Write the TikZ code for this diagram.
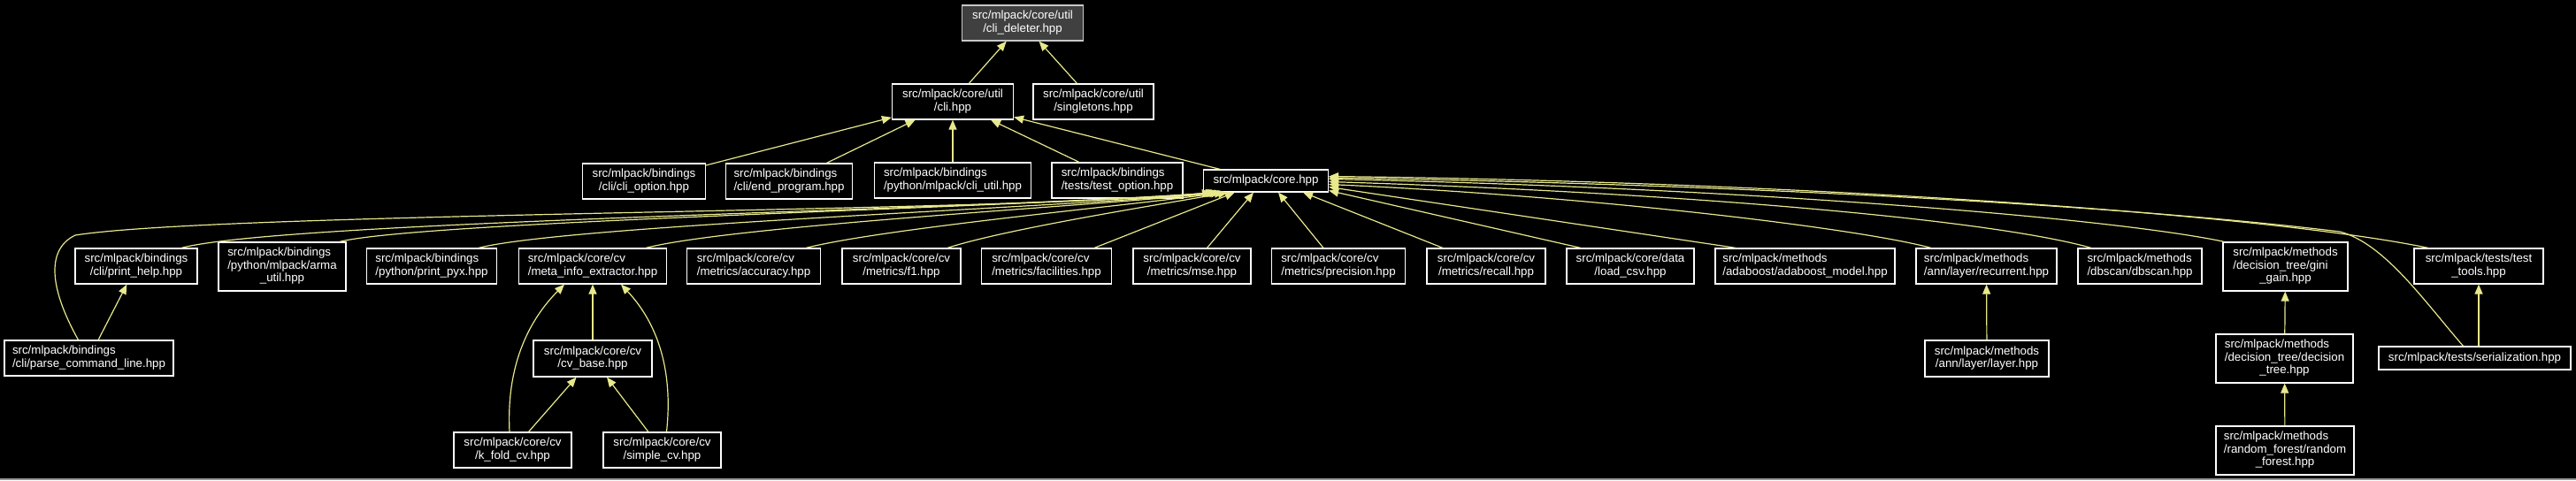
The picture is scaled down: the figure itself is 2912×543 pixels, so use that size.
\documentclass[tikz,border=0pt]{standalone}
\usepackage{fontspec}
\setmainfont{Liberation Sans}
\usetikzlibrary{arrows.meta}
\definecolor{edgec}{RGB}{232,232,140}
\definecolor{boxg}{RGB}{64,64,64}
\definecolor{boxb}{RGB}{200,200,200}
\newcommand\labfont{\fontsize{6.65}{7.2}\selectfont}
\newcommand\Lab[2]{\begin{tabular}{@{}l@{}}#1\\\multicolumn{1}{@{}c@{}}{#2}\end{tabular}}
\tikzset{
  fb/.style={draw=white, fill=black, text=white, line width=0.6pt, inner sep=0pt, font=\labfont, rectangle},
  rootbox/.style={fb, draw=boxb, fill=boxg},
  edge/.style={draw=edgec, line width=0.6pt, -{Triangle[length=5.5pt,width=4.5pt]}},
}
\begin{document}
\begin{tikzpicture}[x=0.5pt,y=-0.5pt]
\fill[black] (0,0) rectangle (2912,543);
\useasboundingbox (0,0) rectangle (2912,543);
\fill[gray!80] (0,541) rectangle (2912,543);

% row 0
\node[rootbox, minimum width=68.5pt, minimum height=20pt] (cdel) at (1156,26) {\Lab{src/mlpack/core/util}{/cli\_deleter.hpp}};
% row 1
\node[fb, minimum width=68.5pt, minimum height=20pt] (cli) at (1077,115) {\Lab{src/mlpack/core/util}{/cli.hpp}};
\node[fb, minimum width=68pt, minimum height=20pt] (single) at (1236,115) {\Lab{src/mlpack/core/util}{/singletons.hpp}};
% row 2
\node[fb, minimum width=69.5pt, minimum height=20pt] (clio) at (728,205) {\Lab{src/mlpack/bindings}{/cli/cli\_option.hpp}};
\node[fb, minimum width=71.5pt, minimum height=20pt] (endp) at (892,205) {\Lab{src/mlpack/bindings}{/cli/end\_program.hpp}};
\node[fb, minimum width=88.5pt, minimum height=20pt] (cliu) at (1077,204) {\Lab{src/mlpack/bindings}{/python/mlpack/cli\_util.hpp}};
\node[fb, minimum width=74pt, minimum height=20pt] (testo) at (1263,204) {\Lab{src/mlpack/bindings}{/tests/test\_option.hpp}};
\node[fb, minimum width=70.5pt, minimum height=12.5pt] (core) at (1431,204.5) {src/mlpack/core.hpp};
% row 3
\node[fb, minimum width=69pt, minimum height=20pt] (phelp) at (154,301) {\Lab{src/mlpack/bindings}{/cli/print\_help.hpp}};
\node[fb, minimum width=72pt, minimum height=27.5pt] (arma) at (319,301.5) {\Lab{src/mlpack/bindings\\/python/mlpack/arma}{\_util.hpp}};
\node[fb, minimum width=73.5pt, minimum height=20pt] (pyx) at (488,301) {\Lab{src/mlpack/bindings}{/python/print\_pyx.hpp}};
\node[fb, minimum width=83.5pt, minimum height=20pt] (meta) at (670,301) {\Lab{src/mlpack/core/cv}{/meta\_info\_extractor.hpp}};
\node[fb, minimum width=75.5pt, minimum height=20pt] (acc) at (852,301) {\Lab{src/mlpack/core/cv}{/metrics/accuracy.hpp}};
\node[fb, minimum width=67pt, minimum height=20pt] (f1) at (1019,301) {\Lab{src/mlpack/core/cv}{/metrics/f1.hpp}};
\node[fb, minimum width=73.5pt, minimum height=20pt] (fac) at (1183,301) {\Lab{src/mlpack/core/cv}{/metrics/facilities.hpp}};
\node[fb, minimum width=66.5pt, minimum height=20pt] (mse) at (1347.5,301) {\Lab{src/mlpack/core/cv}{/metrics/mse.hpp}};
\node[fb, minimum width=75.5pt, minimum height=20pt] (prec) at (1513,301) {\Lab{src/mlpack/core/cv}{/metrics/precision.hpp}};
\node[fb, minimum width=67pt, minimum height=20pt] (rec) at (1680,301) {\Lab{src/mlpack/core/cv}{/metrics/recall.hpp}};
\node[fb, minimum width=72pt, minimum height=20pt] (csv) at (1843,301) {\Lab{src/mlpack/core/data}{/load\_csv.hpp}};
\node[fb, minimum width=101.5pt, minimum height=20pt] (ada) at (2040.5,301) {\Lab{src/mlpack/methods}{/adaboost/adaboost\_model.hpp}};
\node[fb, minimum width=79.5pt, minimum height=20pt] (recur) at (2245.5,301) {\Lab{src/mlpack/methods}{/ann/layer/recurrent.hpp}};
\node[fb, minimum width=70pt, minimum height=20pt] (dbs) at (2419,301) {\Lab{src/mlpack/methods}{/dbscan/dbscan.hpp}};
\node[fb, minimum width=70.5pt, minimum height=27.5pt] (gini) at (2583.5,301.5) {\Lab{src/mlpack/methods\\/decision\_tree/gini}{\_gain.hpp}};
\node[fb, minimum width=73pt, minimum height=20pt] (tools) at (2802,301) {\Lab{src/mlpack/tests/test}{\_tools.hpp}};
% row 4
\node[fb, minimum width=95.5pt, minimum height=20pt] (parse) at (100.5,405) {\Lab{src/mlpack/bindings}{/cli/parse\_command\_line.hpp}};
\node[fb, minimum width=67pt, minimum height=20.5pt] (cvb) at (670,405.5) {\Lab{src/mlpack/core/cv}{/cv\_base.hpp}};
\node[fb, minimum width=70pt, minimum height=20.5pt] (layer) at (2246,405.5) {\Lab{src/mlpack/methods}{/ann/layer/layer.hpp}};
\node[fb, minimum width=77.5pt, minimum height=27.5pt] (dtree) at (2582.5,405.5) {\Lab{src/mlpack/methods\\/decision\_tree/decision}{\_tree.hpp}};
\node[fb, minimum width=108.5pt, minimum height=13pt] (ser) at (2797.5,405) {src/mlpack/tests/serialization.hpp};
% row 5
\node[fb, minimum width=66.5pt, minimum height=20pt] (kfold) at (579.5,509) {\Lab{src/mlpack/core/cv}{/k\_fold\_cv.hpp}};
\node[fb, minimum width=66.5pt, minimum height=20pt] (simple) at (748.5,509) {\Lab{src/mlpack/core/cv}{/simple\_cv.hpp}};
\node[fb, minimum width=78pt, minimum height=27.5pt] (rf) at (2583,509.5) {\Lab{src/mlpack/methods\\/random\_forest/random}{\_forest.hpp}};

% edges to cli_deleter and cli
\draw[edge] (cli) -- (cdel);
\draw[edge] (single) -- (cdel);
\draw[edge] (clio) -- (cli);
\draw[edge] (endp) -- (cli);
\draw[edge] (cliu) -- (cli);
\draw[edge] (testo) -- (cli);
\draw[edge] (core) -- (cli);

% left group into core
\draw[edge] ([xshift=-6pt]parse.north) .. controls (58,330) and (50,283) .. (85,266) .. controls (250,240) and (1150,240) .. ([xshift=5pt]core.south west);
\draw[edge] ([xshift=25.5pt]phelp.north) .. controls (320,250) and (1100,238) .. ([xshift=7pt]core.south west);
\draw[edge] ([xshift=-4pt]arma.north east) .. controls (480,250) and (1150,235) .. ([xshift=8pt]core.south west);
\draw[edge] ([xshift=26.5pt]pyx.north) .. controls (640,255) and (1200,235) .. ([xshift=9pt]core.south west);
\draw[edge] ([xshift=30pt]meta.north) .. controls (830,255) and (1250,232) .. ([xshift=10pt]core.south west);
\draw[edge] ([xshift=29.5pt]acc.north) .. controls (1000,258) and (1280,232) .. ([xshift=12pt]core.south west);
\draw[edge] ([xshift=26pt]f1.north) .. controls (1140,258) and (1320,230) .. ([xshift=14pt]core.south west);
\draw[edge] ([xshift=27pt]fac.north) -- ([xshift=18pt]core.south west);
% below core
\draw[edge] ([xshift=8.5pt]mse.north) -- ([xshift=-7pt]core.south);
\draw[edge] ([xshift=-8.5pt]prec.north) -- ([xshift=7pt]core.south);
\draw[edge] ([xshift=-24.5pt]rec.north) -- ([xshift=21pt]core.south);
% right group into core
\draw[edge] ([xshift=-28pt]csv.north) -- ([yshift=-5.5pt]core.east);
\draw[edge] ([xshift=-39pt]ada.north) -- ([yshift=-3.5pt]core.east);
\draw[edge] ([xshift=-31.25pt]recur.north) .. controls (2100,258) and (1800,222) .. ([yshift=-2pt]core.east);
\draw[edge] ([xshift=-27.5pt]dbs.north) .. controls (2250,248) and (1900,218) .. ([yshift=-0.5pt]core.east);
\draw[edge] ([xshift=1pt]gini.north west) .. controls (2380,245) and (1950,212) .. ([yshift=1pt]core.east);
\draw[edge] ([xshift=-6.5pt]ser.north) .. controls (2740,340) and (2695,275) .. (2645,262) .. controls (2400,232) and (1950,208) .. ([yshift=1.75pt]core.east);
\draw[edge] ([xshift=-28.5pt]tools.north) .. controls (2550,240) and (2000,205) .. ([yshift=2.5pt]core.east);

% lower edges
\draw[edge] (parse) -- (phelp);
\draw[edge] ([xshift=-1.75pt]kfold.north) .. controls (572,410) and (600,360) .. ([xshift=-16pt]meta.south);
\draw[edge] ([xshift=2.5pt]simple.north) .. controls (762,410) and (738,360) .. ([xshift=16pt]meta.south);
\draw[edge] (cvb) -- (meta);
\draw[edge] (kfold) -- (cvb);
\draw[edge] (simple) -- (cvb);
\draw[edge] (layer) -- (recur);
\draw[edge] (dtree) -- (gini);
\draw[edge] (rf) -- (dtree);
\draw[edge] (ser.north -| tools.south) -- (tools.south);
\end{tikzpicture}
\end{document}
